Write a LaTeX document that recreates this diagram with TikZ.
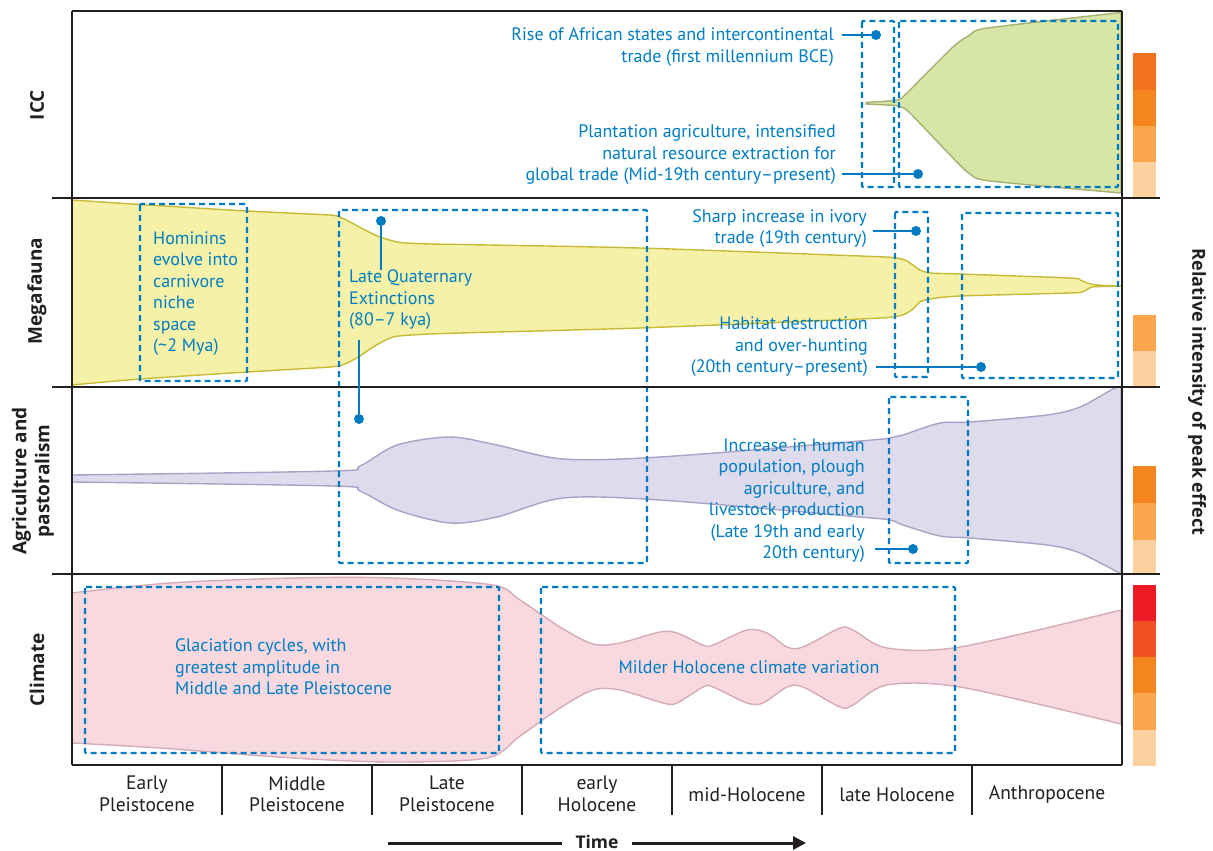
\documentclass[tikz,border=0pt]{standalone}
\usepackage{fontspec}
\setmainfont{PT Sans}
\newfontfamily\labfamily{Open Sans}
\usetikzlibrary{arrows.meta}
\definecolor{framec}{RGB}{35,31,32}
\definecolor{annc}{RGB}{0,125,195}
\definecolor{boxb}{RGB}{0,122,195}
\definecolor{iccF}{RGB}{215,229,167}
\definecolor{iccD}{RGB}{165,176,115}
\definecolor{megF}{RGB}{245,241,168}
\definecolor{megD}{RGB}{200,186,52}
\definecolor{agF}{RGB}{222,219,237}
\definecolor{agD}{RGB}{168,163,198}
\definecolor{clF}{RGB}{249,217,224}
\definecolor{clD}{RGB}{214,170,182}
\definecolor{cA}{RGB}{237,28,36}
\definecolor{cB}{RGB}{240,80,35}
\definecolor{cC}{RGB}{243,112,33}
\definecolor{cD}{RGB}{245,134,31}
\definecolor{cE}{RGB}{249,166,76}
\definecolor{cF}{RGB}{253,208,160}
\newcommand\annfont{\fontsize{18}{21.5}\selectfont}
\newcommand\axfont{\fontsize{19.5}{21.5}\selectfont}
\newcommand\labfont{\labfamily\fontsize{19}{23}\selectfont\bfseries}
\newcommand\relfont{\labfamily\fontsize{18}{22}\selectfont\bfseries}
\newcommand\timefont{\labfamily\fontsize{17.5}{20}\selectfont\bfseries}
\tikzset{
  frameline/.style={draw=framec, line width=2.6pt},
  thinline/.style={draw=framec, line width=1.5pt},
  hbox/.style={draw=boxb, line width=2.4pt, dash pattern=on 6pt off 4pt, rounded corners=1pt},
  ann/.style={text=annc, font=\annfont, inner sep=0pt},
  annR/.style={ann, align=right},
  annL/.style={ann, align=left},
  dotn/.style={circle, fill=boxb, inner sep=0pt, minimum size=10pt},
  callout/.style={draw=boxb, line width=1.6pt},
  axlab/.style={text=framec, font=\axfont, align=center, inner sep=0pt},
  panlab/.style={text=framec, font=\labfont, align=center, inner sep=0pt, rotate=90},
  blob/.style={line width=1.4pt},
}
\begin{document}
\begin{tikzpicture}[x=1pt,y=-1pt]
\fill[white] (0,0) rectangle (1213,851);
\useasboundingbox (0,0) rectangle (1213,851);

% ---------- shapes ----------
% ICC
\filldraw[blob, fill=iccF, draw=iccD]
  plot[smooth, tension=0.45] coordinates {(866,102.5) (895,100.5) (901,98.5) (910,90) (953,47) (970,35) (988,28) (1121,12.5)}
  -- plot[smooth, tension=0.45] coordinates {(1121,193) (990,181) (970,174) (953,158) (910,113) (901,107) (895,105.5) (866,104)}
  -- cycle;
% Megafauna
\filldraw[blob, fill=megF, draw=megD]
  plot[smooth, tension=0.4] coordinates {(72,200) (140,204.5) (247,211) (320,214.5) (337,216) (350,222) (365,230) (380,237) (400,242.5) (430,244) (460,244.5) (640,248) (860,256) (893,257.5) (905,260) (913,265) (920,270) (930,273) (960,274) (1070,278) (1080,280) (1090,284) (1105,285.5) (1121,286)}
  -- plot[smooth, tension=0.4] coordinates {(1121,286) (1105,286.5) (1092,287) (1082,292) (1070,293) (960,296) (930,299) (920,302) (913,309) (905,314) (893,317) (860,319) (640,328) (460,333) (420,334.5) (393,337) (373,347) (360,356) (345,364) (330,367) (247,372) (140,379) (72,385)}
  -- cycle;
% Agriculture
\filldraw[blob, fill=agF, draw=agD]
  plot[smooth, tension=0.5] coordinates {(72,475) (333,471) (360,466) (397,445) (450,437) (497,445) (563,459) (660,457) (860,441) (890,438) (903,435) (940,423) (970,422) (1047,415) (1080,407) (1113,389) (1121,387)}
  -- plot[smooth, tension=0.5] coordinates {(1121,574) (1080,553) (1047,545) (970,538) (940,536) (903,525) (890,520) (860,517) (660,500) (563,498) (497,517) (450,523) (397,510) (360,491) (333,486) (72,482)}
  -- cycle;
% Climate
\filldraw[blob, fill=clF, draw=clD]
  plot[smooth, tension=0.5] coordinates {(72,593) (170,583) (293,578) (393,578) (493,585) (520,600) (560,627) (593,644) (620,643) (660,632) (677,633) (703,645) (713,645) (747,630) (767,633) (787,647) (803,647) (840,628) (853,630) (887,648) (960,647) (1121,610)}
  -- plot[smooth, tension=0.5] coordinates {(1121,724) (960,687) (887,685) (853,705) (840,707) (803,687) (787,687) (763,703) (747,703) (713,687) (703,687) (677,703) (663,703) (620,690) (593,690) (560,708) (520,736) (487,758) (393,762) (293,758) (160,748) (72,743)}
  -- cycle;

% ---------- dashed boxes ----------
\draw[hbox] (862,21) rectangle (894,187);
\draw[hbox] (899,21) rectangle (1118,187);
\draw[hbox] (140,204) rectangle (247,381);
\draw[hbox] (339,210) rectangle (647,563);
\draw[hbox] (895,212) rectangle (928,377);
\draw[hbox] (962,213) rectangle (1118,378);
\draw[hbox] (889,397) rectangle (968,563);
\draw[hbox] (85,587) rectangle (499,753);
\draw[hbox] (541,587) rectangle (955,753);

% ---------- frame ----------
\draw[frameline] (72,11) -- (1122,11);
\draw[frameline] (72,11) -- (72,765);
\draw[frameline] (1122,11) -- (1122,765);
\draw[frameline] (52,198) -- (1160,198);
\draw[frameline] (52,387) -- (1160,387);
\draw[frameline] (52,574) -- (1160,574);
\draw[frameline] (72,765) -- (1122,765);
\foreach \x in {222,372,522,672,822,972}{\draw[thinline] (\x,765) -- (\x,815);}

% ---------- intensity bars ----------
\fill[cC] (1133,53) rectangle (1156,89.5);
\fill[cD] (1133,89.5) rectangle (1156,126);
\fill[cE] (1133,126) rectangle (1156,162);
\fill[cF] (1133,162) rectangle (1156,197);
\fill[cE] (1133,315) rectangle (1156,351);
\fill[cF] (1133,351) rectangle (1156,386);
\fill[cD] (1133,466) rectangle (1156,503);
\fill[cE] (1133,503) rectangle (1156,540);
\fill[cF] (1133,540) rectangle (1156,573);
\fill[cA] (1133,585) rectangle (1156,621);
\fill[cB] (1133,621) rectangle (1156,657);
\fill[cD] (1133,657) rectangle (1156,693);
\fill[cE] (1133,693) rectangle (1156,730);
\fill[cF] (1133,730) rectangle (1156,766);

% ---------- labels ----------
\node[panlab] (lICC) at (37,105) {ICC};
\node[panlab] (lMeg) at (37,291) {Megafauna};
\node[panlab] (lAg) at (33,481) {Agriculture and\\pastoralism};
\node[panlab] (lCl) at (37,670) {Climate};
\node[text=framec, font=\relfont, inner sep=0pt, rotate=-90] (lRel) at (1197,392) {Relative intensity of peak effect};

\node[axlab] (t1) at (147,794) {Early\\Pleistocene};
\node[axlab] (t2) at (297,794) {Middle\\Pleistocene};
\node[axlab] (t3) at (447,794) {Late\\Pleistocene};
\node[axlab] (t4) at (597,794) {early\\Holocene};
\node[axlab] (t5) at (747,795) {mid-Holocene};
\node[axlab] (t6) at (897,795) {late Holocene};
\node[axlab] (t7) at (1047,795) {Anthropocene};

\node[text=framec, font=\timefont, inner sep=0pt] (time) at (597,842) {Time};
\coordinate (ta) at (388,843);
\coordinate (tb) at (806,843);
\draw[framec, line width=3pt] (ta) -- (562,843);
\draw[framec, line width=3pt, -{Triangle[length=13pt,width=13pt]}] (632,843) -- (tb);

% ---------- annotations ----------
\node[annR, anchor=base east] (aRise) at (834,62.5) {Rise of African states and intercontinental\\trade (first millennium BCE)};
\node[annR, anchor=base east] (aPlant) at (836,180.5) {Plantation agriculture, intensified\\natural resource extraction for\\global trade (Mid-19th century--present)};
\node[annL, anchor=base west] (aHom) at (153,351.5) {Hominins\\evolve into\\carnivore\\niche\\space\\(\textasciitilde 2 Mya)};
\node[annL, anchor=base west] (aLQ) at (349,325.5) {Late Quaternary\\Extinctions\\(80--7 kya)};
\node[annR, anchor=base east] (aIvory) at (867,243.5) {Sharp increase in ivory\\trade (19th century)};
\node[annR, anchor=base east] (aHab) at (868,372.5) {Habitat destruction\\and over-hunting\\(20th century--present)};
\node[annR, anchor=base east] (aInc) at (865,558.5) {Increase in human\\population, plough\\agriculture, and\\livestock production\\(Late 19th and early\\20th century)};
\node[annL, anchor=base west] (aGla) at (175,694.5) {Glaciation cycles, with\\greatest amplitude in\\Middle and Late Pleistocene};
\node[ann, anchor=base] (aMild) at (749,673) {Milder Holocene climate variation};

% ---------- callouts ----------
\node[dotn] (dRise) at (876,35) {};
\coordinate (cRise) at (842,35);
\draw[callout] (cRise) -- (dRise);
\node[dotn] (dPlant) at (918,174) {};
\coordinate (cPlant) at (842,174);
\draw[callout] (cPlant) -- (dPlant);
\node[dotn] (dLQa) at (381,221) {};
\coordinate (cLQa) at (381,270);
\draw[callout] (cLQa) -- (dLQa);
\node[dotn] (dLQb) at (359,419) {};
\coordinate (cLQb) at (359,340);
\draw[callout] (cLQb) -- (dLQb);
\node[dotn] (dIvory) at (916,231) {};
\coordinate (cIvory) at (873,231);
\draw[callout] (cIvory) -- (dIvory);
\node[dotn] (dHab) at (981,367) {};
\coordinate (cHab) at (876,367);
\draw[callout] (cHab) -- (dHab);
\node[dotn] (dInc) at (913,549) {};
\coordinate (cInc) at (875,549);
\draw[callout] (cInc) -- (dInc);
\end{tikzpicture}
\end{document}
